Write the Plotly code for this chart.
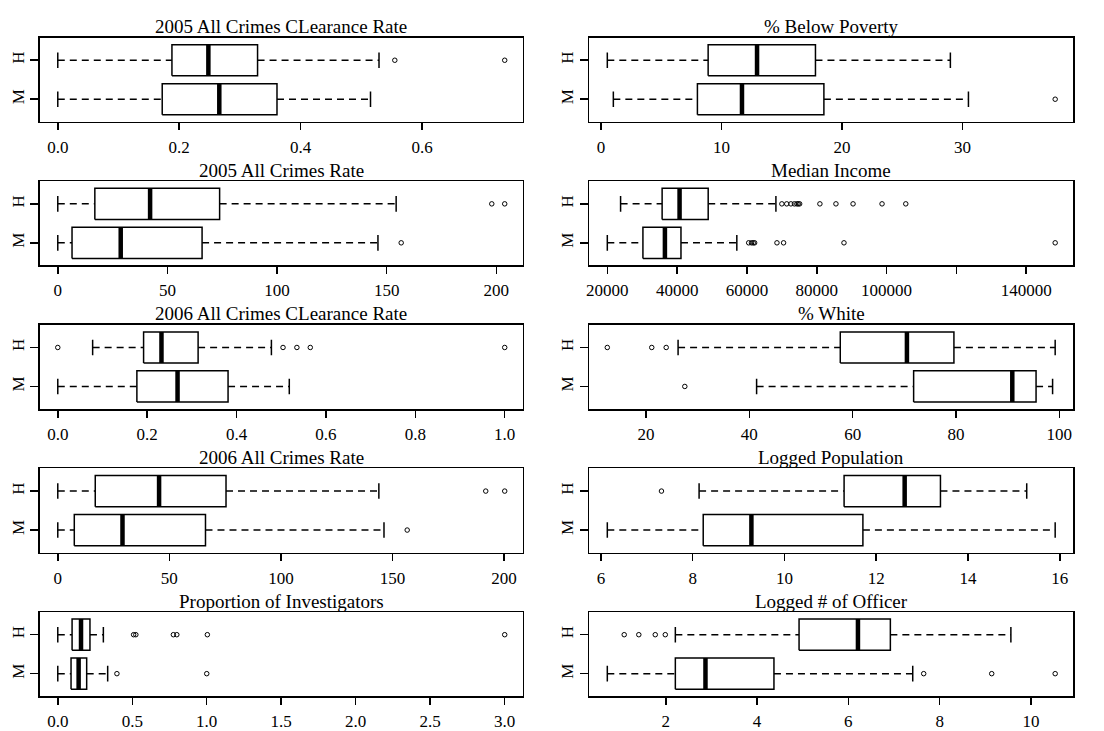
import plotly.graph_objects as go

# ---------------- data ----------------
groups = ["M", "H"]          # bottom to top

titles = [
    "2005 All Crimes CLearance Rate", "% Below Poverty",
    "2005 All Crimes Rate", "Median Income",
    "2006 All Crimes CLearance Rate", "% White",
    "2006 All Crimes Rate", "Logged Population",
    "Proportion of Investigators", "Logged # of Officer",
]

# stats order: lower whisker, Q1, median, Q3, upper whisker
clr2005_M = [0.0, 0.172, 0.266, 0.361, 0.515]
clr2005_M_out = []
clr2005_H = [0.0, 0.188, 0.248, 0.329, 0.529]
clr2005_H_out = [0.555, 0.736]

poverty_M = [1.02, 8.0, 11.7, 18.5, 30.5]
poverty_M_out = [37.7]
poverty_H = [0.52, 8.89, 12.95, 17.8, 29.0]
poverty_H_out = []

rate2005_M = [0.0, 6.5, 28.7, 65.8, 146.0]
rate2005_M_out = [156.6]
rate2005_H = [0.0, 16.9, 42.1, 73.8, 154.3]
rate2005_H_out = [197.9, 203.8]

income_M = [20000, 30200, 36500, 41100, 57100]
income_M_out = [60500, 61300, 61800, 62200, 68600, 70500, 87800, 148300]
income_H = [23800, 35700, 40700, 48900, 68300]
income_H_out = [70000, 71400, 72600, 73600, 74300, 74700, 75100,
                80900, 85500, 90400, 98700, 105500]

clr2006_M = [0.0, 0.177, 0.268, 0.381, 0.518]
clr2006_M_out = []
clr2006_H = [0.078, 0.192, 0.232, 0.314, 0.478]
clr2006_H_out = [0.0, 0.504, 0.535, 0.565, 1.0]

white_M = [41.4, 71.8, 90.9, 95.5, 98.7]
white_M_out = [27.5]
white_H = [26.2, 57.6, 70.5, 79.6, 99.2]
white_H_out = [12.5, 21.1, 23.9]

rate2006_M = [0.0, 7.4, 29.0, 66.2, 146.2]
rate2006_M_out = [156.6]
rate2006_H = [0.0, 16.8, 45.4, 75.4, 143.9]
rate2006_H_out = [191.8, 200.3]

logpop_M = [6.14, 8.23, 9.28, 11.71, 15.90]
logpop_M_out = []
logpop_H = [8.14, 11.30, 12.62, 13.40, 15.28]
logpop_H_out = [7.32]

invest_M = [0.0, 0.089, 0.140, 0.194, 0.335]
invest_M_out = [0.397, 1.0]
invest_H = [0.0, 0.096, 0.156, 0.216, 0.306]
invest_H_out = [0.509, 0.524, 0.776, 0.799, 1.004, 3.0]

logoff_M = [0.72, 2.21, 2.87, 4.37, 7.41]
logoff_M_out = [7.65, 9.14, 10.53]
logoff_H = [2.21, 4.92, 6.21, 6.92, 9.56]
logoff_H_out = [1.09, 1.41, 1.77, 1.99]

# tick values / labels per panel
ticks_clr2005 = [0.0, 0.2, 0.4, 0.6]
labels_clr2005 = ["0.0", "0.2", "0.4", "0.6"]
ticks_poverty = [0, 10, 20, 30]
labels_poverty = ["0", "10", "20", "30"]
ticks_rate2005 = [0, 50, 100, 150, 200]
labels_rate2005 = ["0", "50", "100", "150", "200"]
ticks_income = [20000, 40000, 60000, 80000, 100000, 120000, 140000]
labels_income = ["20000", "40000", "60000", "80000", "100000", "", "140000"]
ticks_clr2006 = [0.0, 0.2, 0.4, 0.6, 0.8, 1.0]
labels_clr2006 = ["0.0", "0.2", "0.4", "0.6", "0.8", "1.0"]
ticks_white = [20, 40, 60, 80, 100]
labels_white = ["20", "40", "60", "80", "100"]
ticks_rate2006 = [0, 50, 100, 150, 200]
labels_rate2006 = ["0", "50", "100", "150", "200"]
ticks_logpop = [6, 8, 10, 12, 14, 16]
labels_logpop = ["6", "8", "10", "12", "14", "16"]
ticks_invest = [0.0, 0.5, 1.0, 1.5, 2.0, 2.5, 3.0]
labels_invest = ["0.0", "0.5", "1.0", "1.5", "2.0", "2.5", "3.0"]
ticks_logoff = [2, 4, 6, 8, 10]
labels_logoff = ["2", "4", "6", "8", "10"]

panels = [
    (clr2005_M, clr2005_M_out, clr2005_H, clr2005_H_out, ticks_clr2005, labels_clr2005),
    (poverty_M, poverty_M_out, poverty_H, poverty_H_out, ticks_poverty, labels_poverty),
    (rate2005_M, rate2005_M_out, rate2005_H, rate2005_H_out, ticks_rate2005, labels_rate2005),
    (income_M, income_M_out, income_H, income_H_out, ticks_income, labels_income),
    (clr2006_M, clr2006_M_out, clr2006_H, clr2006_H_out, ticks_clr2006, labels_clr2006),
    (white_M, white_M_out, white_H, white_H_out, ticks_white, labels_white),
    (rate2006_M, rate2006_M_out, rate2006_H, rate2006_H_out, ticks_rate2006, labels_rate2006),
    (logpop_M, logpop_M_out, logpop_H, logpop_H_out, ticks_logpop, labels_logpop),
    (invest_M, invest_M_out, invest_H, invest_H_out, ticks_invest, labels_invest),
    (logoff_M, logoff_M_out, logoff_H, logoff_H_out, ticks_logoff, labels_logoff),
]

# ---------------- layout geometry ----------------
W, H = 1104, 731
FONT = "Liberation Serif, Times New Roman, serif"
col_px = [(37, 521), (588, 1073)]
row_top0, row_step, row_h = 38, 145, 85
BOX_HALF = 0.4
STAPLE_HALF = 0.2
LW = 1.5

fig = go.Figure()
layout = dict(
    width=W, height=H, autosize=False,
    margin=dict(l=0, r=0, t=0, b=0),
    paper_bgcolor="white", plot_bgcolor="white",
    showlegend=False, hovermode=False,
    font=dict(family=FONT, color="black", size=17),
)
annotations = []

for i, (mS, mO, hS, hO, tv, tt) in enumerate(panels):
    r, c = divmod(i, 2)
    n = i + 1
    xa = "x" if n == 1 else f"x{n}"
    ya = "y" if n == 1 else f"y{n}"
    x0p, x1p = col_px[c]
    top = row_top0 + r * row_step
    bot = top + row_h

    allvals = mS + hS + mO + hO
    lo, hi = min(allvals), max(allvals)
    pad = 0.04 * (hi - lo)

    for pos, (stats, outs) in zip([1, 2], [(mS, mO), (hS, hO)]):
        wl, q1, med, q3, wu = stats
        # whiskers (dashed)
        fig.add_trace(go.Scatter(
            x=[wl, q1, None, q3, wu], y=[pos, pos, None, pos, pos],
            mode="lines", line=dict(color="black", width=LW, dash="7px,5px"),
            xaxis=xa, yaxis=ya))
        # staples
        fig.add_trace(go.Scatter(
            x=[wl, wl, None, wu, wu],
            y=[pos - STAPLE_HALF, pos + STAPLE_HALF, None, pos - STAPLE_HALF, pos + STAPLE_HALF],
            mode="lines", line=dict(color="black", width=LW),
            xaxis=xa, yaxis=ya))
        # box
        fig.add_trace(go.Scatter(
            x=[q1, q3, q3, q1, q1],
            y=[pos - BOX_HALF, pos - BOX_HALF, pos + BOX_HALF, pos + BOX_HALF, pos - BOX_HALF],
            mode="lines", fill="toself", fillcolor="white",
            line=dict(color="black", width=LW),
            xaxis=xa, yaxis=ya))
        # median
        fig.add_trace(go.Scatter(
            x=[med, med], y=[pos - BOX_HALF, pos + BOX_HALF],
            mode="lines", line=dict(color="black", width=4.5),
            xaxis=xa, yaxis=ya))
        # outliers
        if outs:
            fig.add_trace(go.Scatter(
                x=outs, y=[pos] * len(outs), mode="markers",
                marker=dict(symbol="circle-open", size=4.5, color="black",
                            line=dict(width=1, color="black")),
                xaxis=xa, yaxis=ya))

    xkey = "xaxis" if n == 1 else f"xaxis{n}"
    ykey = "yaxis" if n == 1 else f"yaxis{n}"
    layout[xkey] = dict(
        domain=[x0p / W, x1p / W], anchor=ya,
        range=[lo - pad, hi + pad],
        tickvals=tv, ticktext=tt,
        ticks="outside", ticklen=7, tickwidth=LW, tickcolor="black",
        ticklabelstandoff=2,
        showline=True, linecolor="black", linewidth=LW, mirror=True,
        showgrid=False, zeroline=False,
        tickfont=dict(family=FONT, size=17, color="black"),
    )
    layout[ykey] = dict(
        domain=[1 - bot / H, 1 - top / H], anchor=xa,
        range=[0.42, 2.58],
        tickvals=[1, 2], ticktext=groups, tickangle=-90,
        ticks="outside", ticklen=8, tickwidth=LW, tickcolor="black",
        showline=True, linecolor="black", linewidth=LW, mirror=True,
        showgrid=False, zeroline=False,
        tickfont=dict(family=FONT, size=17, color="black"),
    )
    annotations.append(dict(
        text=titles[i], xref="paper", yref="paper",
        x=(x0p + x1p) / 2 / W, y=1 - (top - 11) / H,
        xanchor="center", yanchor="middle", showarrow=False,
        font=dict(family=FONT, size=19, color="black"),
    ))

layout["annotations"] = annotations
fig.update_layout(**layout)
fig.write_html("out.html",
               config={"displayModeBar": False, "staticPlot": True},
               post_script="document.body.style.margin='0px';document.body.style.overflow='hidden';")
